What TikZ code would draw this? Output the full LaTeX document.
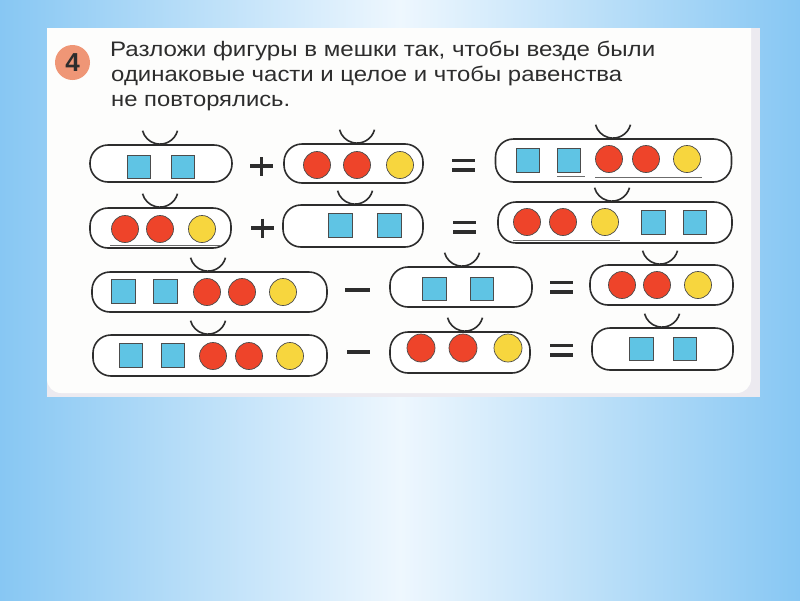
\documentclass[tikz,border=0pt]{standalone}
\usepackage{graphicx}
\usepackage{fontspec}
\setmainfont{Liberation Sans}
\usetikzlibrary{fadings}
\definecolor{inkc}{RGB}{45,45,45}
\definecolor{sqblue}{RGB}{95,196,228}
\definecolor{redc}{RGB}{238,68,42}
\definecolor{yelc}{RGB}{247,214,62}
\definecolor{numc}{RGB}{239,150,118}
\definecolor{textc}{RGB}{45,45,45}
\definecolor{bgblue}{RGB}{135,199,243}
\definecolor{bglight}{RGB}{238,247,254}
\definecolor{pagegray}{RGB}{236,234,240}
\definecolor{pagewhite}{RGB}{253,253,252}
\tikzfading[name=bandfade, top color=transparent!100, middle color=transparent!35, bottom color=transparent!100]
\newcommand\bagHandle[2]{\draw[handle] (#1.north -| #2,0) ++(17.5,-13.5) arc[start angle=15, end angle=165, radius=18.1];}
\newcommand\fitline[2]{\resizebox{#1pt}{\height}{#2}}
\begin{document}
\begin{tikzpicture}[x=1pt,y=-1pt,
  bag/.style={draw=inkc, line width=1.6pt, rounded corners=18pt, fill=white, inner sep=0pt},
  sq/.style={draw=inkc!85, line width=0.7pt, fill=sqblue, minimum size=23.5pt, inner sep=0pt},
  rc/.style={circle, draw=inkc!85, line width=0.7pt, fill=redc, minimum size=27pt, inner sep=0pt},
  yc/.style={circle, draw=inkc!85, line width=0.7pt, fill=yelc, minimum size=27pt, inner sep=0pt},
  handle/.style={draw=inkc, line width=1.6pt},
  sign/.style={draw=inkc, line width=3.8pt},
  scanline/.style={draw=inkc!70, line width=0.8pt},
  txt/.style={anchor=base west, inner sep=0pt, font=\fontsize{21}{24}\selectfont, text=textc}]
\useasboundingbox (0,0) rectangle (800,600);
% background
\shade[left color=bgblue, right color=bgblue, middle color=bglight] (0,0) rectangle (800,600);
\fill[white, path fading=bandfade] (0,392) rectangle (800,470);
% page
\fill[pagegray] (47,28) rectangle (760,397);
\fill[pagewhite] (47,28) -- (751,28) [rounded corners=14pt] -- (751,393) -- (47,393) [sharp corners] -- cycle;
% task number and text
\node[circle, fill=numc, minimum size=35pt, inner sep=0pt, text=textc, font=\bfseries\fontsize{26}{26}\selectfont] (num) at (72.5,62.5) {4};
\node[txt] (t1) at (110,56) {\fitline{545}{Разложи фигуры в мешки так, чтобы везде были}};
\node[txt] (t2) at (111,81.5) {\fitline{511}{одинаковые части и целое и чтобы равенства}};
\node[txt] (t3) at (111,106.5) {\fitline{179}{не повторялись.}};
% ---------- row 1
\node[bag, minimum width=142pt, minimum height=37pt] (b11) at (161,163.5) {};
\node[bag, minimum width=139pt, minimum height=39pt] (b12) at (353.5,163.5) {};
\node[bag, minimum width=236pt, minimum height=43pt] (b13) at (613.5,160.5) {};
\bagHandle{b11}{160}
\bagHandle{b12}{357}
\bagHandle{b13}{613}
\node[sq] (s11a) at (139,167) {};
\node[sq] (s11b) at (183,167) {};
\node[rc] (s12a) at (317,165) {};
\node[rc] (s12b) at (357,165) {};
\node[yc] (s12c) at (400,165) {};
\node[sq] (s13a) at (528,160.5) {};
\node[sq] (s13b) at (569,160.5) {};
\node[rc] (s13c) at (609,159) {};
\node[rc] (s13d) at (646,159) {};
\node[yc] (s13e) at (687,159) {};
\draw[scanline] (595,177) -- (702,177);
\draw[scanline] (557,176) -- (585,176);
\draw[sign] (250,166) -- (273,166) (261.5,157) -- (261.5,176);
\draw[sign] (452,160.5) -- (475,160.5) (452,170) -- (475,170);
% ---------- row 2
\node[bag, minimum width=141pt, minimum height=40pt] (b21) at (160.5,228) {};
\node[bag, minimum width=140pt, minimum height=42pt] (b22) at (353,226) {};
\node[bag, minimum width=234pt, minimum height=41pt] (b23) at (615,222.5) {};
\bagHandle{b21}{160}
\bagHandle{b22}{355}
\bagHandle{b23}{612}
\node[rc] (s21a) at (125,229) {};
\node[rc] (s21b) at (160,229) {};
\node[yc] (s21c) at (202,229) {};
\node[sq] (s22a) at (340.5,225.5) {};
\node[sq] (s22b) at (389.5,225.5) {};
\node[rc] (s23a) at (527,222) {};
\node[rc] (s23b) at (563,222) {};
\node[yc] (s23c) at (605,222) {};
\node[sq] (s23d) at (653.5,222.5) {};
\node[sq] (s23e) at (695,222.5) {};
\draw[scanline] (110,245.5) -- (220,245.5);
\draw[scanline] (513,240.5) -- (620,240.5);
\draw[sign] (251,228) -- (274,228) (262.5,218.5) -- (262.5,237.5);
\draw[sign] (453,222.5) -- (476,222.5) (453,232) -- (476,232);
% ---------- row 3
\node[bag, minimum width=235pt, minimum height=40pt] (b31) at (209.5,292) {};
\node[bag, minimum width=142pt, minimum height=40pt] (b32) at (461,287) {};
\node[bag, minimum width=143pt, minimum height=40pt] (b33) at (661.5,285) {};
\bagHandle{b31}{208}
\bagHandle{b32}{462}
\bagHandle{b33}{660}
\node[sq] (s31a) at (123.5,291.5) {};
\node[sq] (s31b) at (165.5,291.5) {};
\node[rc] (s31c) at (207,292) {};
\node[rc] (s31d) at (242,292) {};
\node[yc] (s31e) at (283,292) {};
\node[sq] (s32a) at (434.5,289) {};
\node[sq] (s32b) at (482,289) {};
\node[rc] (s33a) at (622,285) {};
\node[rc] (s33b) at (657,285) {};
\node[yc] (s33c) at (698,285) {};
\draw[sign] (345,290) -- (370,290);
\draw[sign] (550,282.5) -- (573,282.5) (550,292) -- (573,292);
% ---------- row 4
\node[bag, minimum width=234pt, minimum height=41pt] (b41) at (210,355.5) {};
\node[bag, minimum width=140pt, minimum height=41pt] (b42) at (460,352.5) {};
\node[bag, minimum width=141pt, minimum height=42pt] (b43) at (662.5,349) {};
\bagHandle{b41}{208}
\bagHandle{b42}{465}
\bagHandle{b43}{662}
\node[sq] (s41a) at (131,355.5) {};
\node[sq] (s41b) at (173,355.5) {};
\node[rc] (s41c) at (213,356) {};
\node[rc] (s41d) at (249,356) {};
\node[yc] (s41e) at (290,356) {};
\node[rc, minimum size=28pt] (s42a) at (421,348) {};
\node[rc, minimum size=28pt] (s42b) at (463,348) {};
\node[yc, minimum size=28pt] (s42c) at (508,348) {};
\node[sq] (s43a) at (641.5,349) {};
\node[sq] (s43b) at (685,349) {};
\draw[sign] (347,352) -- (370,352);
\draw[sign] (550,345.5) -- (573,345.5) (550,355) -- (573,355);
\end{tikzpicture}
\end{document}
